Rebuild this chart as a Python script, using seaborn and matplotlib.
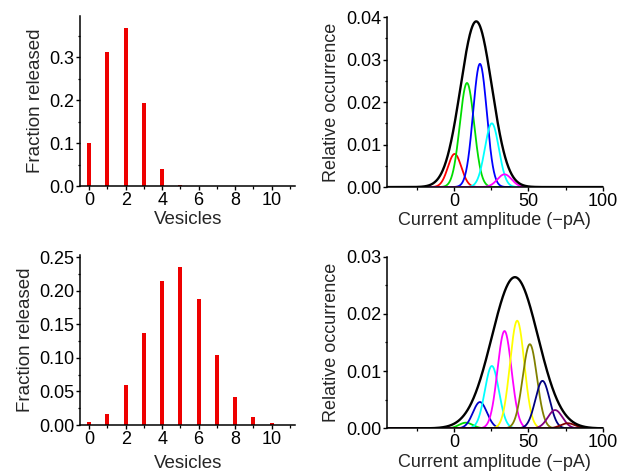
import numpy as np
import pandas as pd
import matplotlib
matplotlib.use("Agg")
import matplotlib.pyplot as plt
from matplotlib.ticker import MultipleLocator, FormatStrFormatter
import seaborn as sns

sns.set_theme(style="ticks")
plt.rcParams['font.family'] = ['Liberation Sans', 'DejaVu Sans']

# release probabilities (left panels)
vesicles = list(range(11))
frac_top = [0.100, 0.311, 0.367, 0.193, 0.040, 0.003, 0, 0, 0, 0, 0]
frac_bot = [0.004, 0.016, 0.059, 0.137, 0.214, 0.235, 0.187, 0.105, 0.042, 0.012, 0.003]

# gaussian components (right panels): peak height, mean, sigma
top_colors = ["red", "#00dd00", "blue", "cyan", "magenta"]
top_amp = [0.0078, 0.0245, 0.029, 0.015, 0.003]
top_mu = [0.5, 8.8, 17.5, 25.5, 34.0]
top_sd = [4.5, 4.8, 4.6, 4.7, 4.8]
top_env = (0.039, 15.0, 10.5)

bot_colors = ["#00dd00", "#0000cc", "cyan", "magenta", "yellow", "#808000", "#000080", "#800080", "#800000"]
bot_amp = [0.001, 0.0046, 0.0109, 0.017, 0.0188, 0.0147, 0.0083, 0.0032, 0.0009]
bot_mu = [8.0, 17.5, 25.5, 34.0, 42.5, 51.0, 59.5, 68.0, 76.5]
bot_sd = [4.6, 4.7, 4.7, 4.7, 4.8, 4.8, 4.8, 4.9, 4.9]
bot_env = (0.0264, 41.0, 15.5)

amp_grid = np.linspace(-45, 100, 800)


def gauss(a, m, s):
    return a * np.exp(-0.5 * ((amp_grid - m) / s) ** 2)


def style_axis(ax):
    sns.despine(ax=ax)
    for sp in ax.spines.values():
        sp.set_linewidth(1.1)
        sp.set_color("black")
    ax.tick_params(which="major", direction="out", length=3, width=1.0, labelsize=13, pad=1, colors="black")
    ax.tick_params(which="minor", direction="out", length=1.8, width=0.9, colors="black")


fig = plt.figure(figsize=(6.17, 4.76), dpi=100)
ax_tl = fig.add_axes([0.1297, 0.609, 0.349, 0.357])
ax_bl = fig.add_axes([0.1297, 0.107, 0.349, 0.357])
ax_tr = fig.add_axes([0.627, 0.607, 0.350, 0.357])
ax_br = fig.add_axes([0.627, 0.100, 0.350, 0.361])

for ax, frac, ymax, major, fmt, pad in [(ax_tl, frac_top, 0.395, 0.1, "%.1f", 2),
                                        (ax_bl, frac_bot, 0.253, 0.05, "%.2f", 5)]:
    df = pd.DataFrame({"Vesicles": vesicles, "Fraction": frac})
    sns.barplot(data=df, x="Vesicles", y="Fraction", native_scale=True, width=0.23,
                color="#ee0000", saturation=1, linewidth=0, ax=ax)
    ax.set_xlim(-0.5, 11.3)
    ax.set_ylim(0, ymax)
    ax.xaxis.set_major_locator(MultipleLocator(2))
    ax.xaxis.set_minor_locator(MultipleLocator(1))
    ax.yaxis.set_major_locator(MultipleLocator(major))
    ax.yaxis.set_minor_locator(MultipleLocator(major / 2))
    ax.yaxis.set_major_formatter(FormatStrFormatter(fmt))
    ax.set_xlabel("Vesicles", fontsize=13.5, labelpad=pad)
    ax.set_ylabel("Fraction released", fontsize=13.5, labelpad=4)
    style_axis(ax)

for ax, colors, amp, mu, sd, env, ymax in [(ax_tr, top_colors, top_amp, top_mu, top_sd, top_env, 0.04),
                                           (ax_br, bot_colors, bot_amp, bot_mu, bot_sd, bot_env, 0.03)]:
    for c, a, m, s in zip(colors, amp, mu, sd):
        sns.lineplot(x=amp_grid, y=gauss(a, m, s), color=c, lw=1.3, ax=ax)
    sns.lineplot(x=amp_grid, y=gauss(*env), color="black", lw=1.7, ax=ax)
    ax.set_xlim(-45, 100)
    ax.set_ylim(0, ymax)
    ax.xaxis.set_major_locator(MultipleLocator(50))
    ax.xaxis.set_minor_locator(MultipleLocator(25))
    ax.yaxis.set_major_locator(MultipleLocator(0.01))
    ax.yaxis.set_minor_locator(MultipleLocator(0.005))
    ax.yaxis.set_major_formatter(FormatStrFormatter("%.2f"))
    ax.set_xlabel("Current amplitude (\u2212pA)", fontsize=13, labelpad=2)
    ax.set_ylabel("Relative occurrence", fontsize=13, labelpad=4)
    style_axis(ax)

fig.savefig("out.png", dpi=100)
